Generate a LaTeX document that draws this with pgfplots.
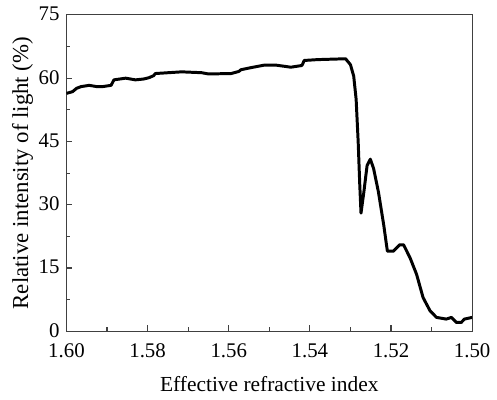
\documentclass[border=0pt]{standalone}
\usepackage{pgfplots}
\pgfplotsset{compat=1.18}
\usepackage{fontspec}
\setmainfont{Liberation Serif}

\begin{document}
\begin{tikzpicture}
\begin{axis}[
    scale only axis,
    width=204.5pt, height=159.5pt,
    x dir=reverse,
    xmin=1.50, xmax=1.60,
    ymin=0, ymax=75,
    xtick={1.50,1.52,...,1.601},
    minor xtick={1.51,1.53,1.55,1.57,1.59},
    ytick={0,15,30,45,60,75},
    minor ytick={7.5,22.5,37.5,52.5,67.5},
    xtick pos=bottom, ytick pos=left,
    tick align=inside,
    major tick length=3pt, minor tick length=2pt,
    axis line style={draw=black!75, line width=0.6pt},
    every tick/.style={black!75, line width=0.6pt},
    x tick label style={yshift=-2.5pt, /pgf/number format/.cd, fixed, fixed zerofill, precision=2},
    y tick label style={yshift=0.5pt},
    /pgf/number format/assume math mode=true,
    tick label style={font=\fontsize{10.5}{12}\selectfont},
    xlabel style={font=\fontsize{10.8}{13}\selectfont, yshift=-2.5pt},
    ylabel style={font=\fontsize{11.5}{13}\selectfont, yshift=-4pt},
    xlabel={Effective refractive index},
    ylabel={Relative intensity of light (\%)},
]
\addplot[black, line width=1.5pt, line join=round] coordinates {
(1.6000,56.4) (1.5985,56.8) (1.5975,57.6) (1.5964,58.0) (1.5944,58.3)
(1.5925,58.0) (1.5911,58.0) (1.5890,58.3) (1.5883,59.6) (1.5854,60.0)
(1.5830,59.6) (1.5810,59.8) (1.5797,60.1) (1.5785,60.6) (1.5781,61.1)
(1.5716,61.5) (1.5667,61.3) (1.5650,61.0) (1.5594,61.1) (1.5575,61.6)
(1.5570,62.0) (1.5545,62.5) (1.5512,63.1) (1.5484,63.1) (1.5447,62.6)
(1.5420,63.0) (1.5418,63.3) (1.5414,64.2) (1.5381,64.4) (1.5312,64.6)
(1.5300,63.2) (1.5292,60.5) (1.5286,55.0) (1.5281,45.0) (1.5277,34.6)
(1.5274,28.0) (1.5267,33.0) (1.5259,39.3) (1.5251,40.8) (1.5243,38.6)
(1.5231,33.0) (1.5218,25.2) (1.5209,19.0) (1.5194,19.0) (1.5179,20.5)
(1.5169,20.5) (1.5153,17.4) (1.5137,13.5) (1.5121,8.0) (1.5104,4.9)
(1.5088,3.3) (1.5064,2.9) (1.5051,3.3) (1.5039,2.1) (1.5027,2.1)
(1.5019,2.9) (1.5000,3.3)
};
\end{axis}
% white margin as in the reference
\path (current axis.south west) ++(-33.5pt,-34.5pt) rectangle ++(248.5pt,201.5pt);
\end{tikzpicture}
\end{document}
